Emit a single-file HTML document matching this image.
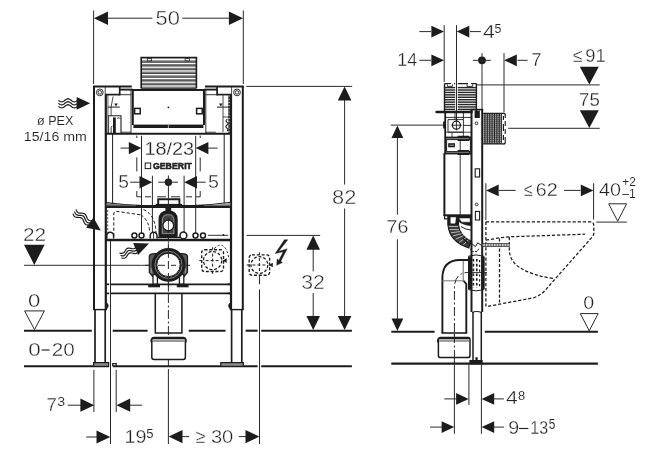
<!DOCTYPE html>
<html><head><meta charset="utf-8"><title>Installation dimensions</title>
<style>
html,body{margin:0;padding:0;background:#fff;}
body{width:652px;height:454px;overflow:hidden;}
svg{display:block;}
text{font-family:"Liberation Sans",sans-serif;}
svg{filter:grayscale(1);}
</style></head><body>
<svg width="652" height="454" viewBox="0 0 652 454">
<rect x="0" y="0" width="652" height="454" fill="#ffffff"/>
<g id="dims">
<line x1="93.6" y1="10.5" x2="93.6" y2="84" stroke="#2a2a2a" stroke-width="1"/>
<line x1="243.3" y1="10.5" x2="243.3" y2="84" stroke="#2a2a2a" stroke-width="1"/>
<polygon points="93.9,18.2 108,11.4 108,25" fill="#1c1c1c" stroke="none" stroke-width="0"/>
<polygon points="243,18.2 228.9,11.4 228.9,25" fill="#1c1c1c" stroke="none" stroke-width="0"/>
<line x1="107" y1="18.2" x2="152.4" y2="18.2" stroke="#2a2a2a" stroke-width="1"/>
<line x1="182.4" y1="18.2" x2="230" y2="18.2" stroke="#2a2a2a" stroke-width="1"/>
<text transform="translate(155.6,24.75) scale(1.1309,1)" font-size="19.36" fill="#222222" stroke="#fff" stroke-width="0.42">50</text>
<line x1="246.3" y1="86.4" x2="352.2" y2="86.4" stroke="#2a2a2a" stroke-width="1"/>
<line x1="344.6" y1="99" x2="344.6" y2="184.6" stroke="#2a2a2a" stroke-width="1"/>
<line x1="344.6" y1="208.5" x2="344.6" y2="318" stroke="#2a2a2a" stroke-width="1"/>
<polygon points="344.6,86.6 337.8,100.6 351.4,100.6" fill="#1c1c1c" stroke="none" stroke-width="0"/>
<polygon points="344.6,330 337.8,316 351.4,316" fill="#1c1c1c" stroke="none" stroke-width="0"/>
<text transform="translate(332.1,203.65) scale(1.1064,1)" font-size="19.79" fill="#222222" stroke="#fff" stroke-width="0.46">82</text>
<line x1="246.5" y1="235.4" x2="320.2" y2="235.4" stroke="#2a2a2a" stroke-width="1"/>
<line x1="313.2" y1="249" x2="313.2" y2="271.4" stroke="#2a2a2a" stroke-width="1"/>
<line x1="313.2" y1="293" x2="313.2" y2="318" stroke="#2a2a2a" stroke-width="1"/>
<polygon points="313.2,235.6 306.4,249.8 320,249.8" fill="#1c1c1c" stroke="none" stroke-width="0"/>
<polygon points="313.2,330 306.4,316 320,316" fill="#1c1c1c" stroke="none" stroke-width="0"/>
<text transform="translate(301.2,289.05) scale(1.0824,1)" font-size="19.64" fill="#222222" stroke="#fff" stroke-width="0.45">32</text>
<text transform="translate(36.95,125.05) scale(0.9408,1)" font-size="13.41" fill="#222222" stroke="#fff" stroke-width="0.1">ø PEX</text>
<text transform="translate(23.85,141.25) scale(1.0999,1)" font-size="12.9" fill="#222222" stroke="#fff" stroke-width="0.1">15/16 mm</text>
<path d="M58.5 100.3 L59.29 100.91 L60.08 101.43 L60.88 101.78 L61.67 101.9 L62.46 101.78 L63.25 101.43 L64.04 100.91 L64.83 100.3 L65.62 99.69 L66.42 99.17 L67.21 98.82 L68 98.7 L68.79 98.82 L69.58 99.17 L70.38 99.69 L71.17 100.3 L71.96 100.91 L72.75 101.43 L73.54 101.78 L74.33 101.9 L75.12 101.78 L75.92 101.43 L76.71 100.91 L77.5 100.3" stroke="#1c1c1c" stroke-width="1.2" fill="none"/>
<path d="M58.5 103.3 L59.29 103.91 L60.08 104.43 L60.88 104.78 L61.67 104.9 L62.46 104.78 L63.25 104.43 L64.04 103.91 L64.83 103.3 L65.62 102.69 L66.42 102.17 L67.21 101.82 L68 101.7 L68.79 101.82 L69.58 102.17 L70.38 102.69 L71.17 103.3 L71.96 103.91 L72.75 104.43 L73.54 104.78 L74.33 104.9 L75.12 104.78 L75.92 104.43 L76.71 103.91 L77.5 103.3" stroke="#1c1c1c" stroke-width="1.2" fill="none"/>
<path d="M58.5 106.3 L59.29 106.91 L60.08 107.43 L60.88 107.78 L61.67 107.9 L62.46 107.78 L63.25 107.43 L64.04 106.91 L64.83 106.3 L65.62 105.69 L66.42 105.17 L67.21 104.82 L68 104.7 L68.79 104.82 L69.58 105.17 L70.38 105.69 L71.17 106.3 L71.96 106.91 L72.75 107.43 L73.54 107.78 L74.33 107.9 L75.12 107.78 L75.92 107.43 L76.71 106.91 L77.5 106.3" stroke="#1c1c1c" stroke-width="1.2" fill="none"/>
<polygon points="90.2,103.3 76.7,96.9 76.7,109.7" fill="#1c1c1c" stroke="none" stroke-width="0"/>
<path d="M76.02 209.39 L76.37 210.3 L76.77 211.15 L77.26 211.88 L77.87 212.44 L78.6 212.83 L79.44 213.07 L80.37 213.18 L81.35 213.22 L82.33 213.27 L83.26 213.38 L84.11 213.61 L84.83 214 L85.44 214.57 L85.93 215.29 L86.33 216.14 L86.68 217.06 L87.04 217.97 L87.44 218.82 L87.93 219.54 L88.53 220.11 L89.26 220.5 L90.11 220.73 L91.04 220.84 L92.02 220.89" stroke="#1c1c1c" stroke-width="1.2" fill="none"/>
<path d="M74.5 211.5 L74.85 212.41 L75.26 213.26 L75.75 213.99 L76.35 214.55 L77.08 214.95 L77.92 215.18 L78.85 215.29 L79.83 215.33 L80.81 215.38 L81.74 215.49 L82.59 215.72 L83.32 216.11 L83.92 216.68 L84.41 217.4 L84.81 218.25 L85.17 219.17 L85.52 220.08 L85.92 220.93 L86.41 221.65 L87.02 222.22 L87.75 222.61 L88.59 222.85 L89.52 222.96 L90.5 223" stroke="#1c1c1c" stroke-width="1.2" fill="none"/>
<path d="M72.98 213.61 L73.34 214.53 L73.74 215.37 L74.23 216.1 L74.83 216.66 L75.56 217.06 L76.4 217.29 L77.34 217.4 L78.32 217.44 L79.3 217.49 L80.23 217.6 L81.07 217.83 L81.8 218.22 L82.4 218.79 L82.89 219.52 L83.3 220.36 L83.65 221.28 L84 222.19 L84.4 223.04 L84.89 223.77 L85.5 224.33 L86.23 224.72 L87.07 224.96 L88 225.07 L88.98 225.11" stroke="#1c1c1c" stroke-width="1.2" fill="none"/>
<polygon points="100.8,230.6 93.43,217.6 86.15,227.63" fill="#1c1c1c" stroke="none" stroke-width="0"/>
<path d="M119.51 253.1 L120.42 253.3 L121.3 253.43 L122.13 253.42 L122.88 253.22 L123.54 252.83 L124.14 252.26 L124.67 251.55 L125.18 250.76 L125.68 249.98 L126.22 249.26 L126.81 248.69 L127.48 248.3 L128.23 248.11 L129.05 248.1 L129.93 248.23 L130.84 248.43 L131.76 248.63 L132.64 248.76 L133.46 248.75 L134.21 248.56 L134.88 248.17 L135.47 247.59 L136.01 246.88 L136.51 246.1" stroke="#1c1c1c" stroke-width="1.2" fill="none"/>
<path d="M120.5 255.5 L121.41 255.7 L122.29 255.83 L123.12 255.82 L123.87 255.63 L124.53 255.24 L125.13 254.67 L125.66 253.95 L126.17 253.17 L126.67 252.38 L127.21 251.67 L127.8 251.1 L128.47 250.71 L129.22 250.51 L130.04 250.5 L130.92 250.63 L131.83 250.83 L132.75 251.04 L133.63 251.17 L134.45 251.15 L135.2 250.96 L135.87 250.57 L136.46 250 L137 249.29 L137.5 248.5" stroke="#1c1c1c" stroke-width="1.2" fill="none"/>
<path d="M121.49 257.9 L122.4 258.11 L123.28 258.24 L124.11 258.23 L124.86 258.03 L125.52 257.64 L126.12 257.07 L126.65 256.36 L127.16 255.57 L127.66 254.78 L128.2 254.07 L128.79 253.5 L129.46 253.11 L130.21 252.92 L131.03 252.91 L131.91 253.03 L132.82 253.24 L133.74 253.44 L134.62 253.57 L135.44 253.56 L136.19 253.37 L136.86 252.98 L137.45 252.4 L137.99 251.69 L138.49 250.9" stroke="#1c1c1c" stroke-width="1.2" fill="none"/>
<polygon points="149,243.4 133.15,243.09 138.09,254.9" fill="#1c1c1c" stroke="none" stroke-width="0"/>
<text transform="translate(22.9,241.45) scale(1.0831,1)" font-size="19.21" fill="#222222" stroke="#fff" stroke-width="0.41">22</text>
<polygon points="24,244.7 44.6,244.7 34.3,264.9" fill="#1c1c1c" stroke="none" stroke-width="0"/>
<line x1="24" y1="265.3" x2="141.4" y2="265.3" stroke="#2a2a2a" stroke-width="1"/>
<text transform="translate(28.1,307.05) scale(1.2461,1)" font-size="17.79" fill="#222222" stroke="#fff" stroke-width="0.28">0</text>
<polygon points="24.6,310.9 44.4,310.9 34.5,329.6" fill="#fff" stroke="#2a2a2a" stroke-width="1"/>
<text transform="translate(28.2,356.45) scale(1.2174,1)" font-size="18.5" fill="#222222" stroke="#fff" stroke-width="0.34">0</text>
<line x1="41.6" y1="350" x2="49.6" y2="350" stroke="#222222" stroke-width="1.15"/>
<text transform="translate(51.8,356.45) scale(1.1200,1)" font-size="18.5" fill="#222222" stroke="#fff" stroke-width="0.34">20</text>
<line x1="24" y1="330.7" x2="91.8" y2="330.7" stroke="#1c1c1c" stroke-width="2.1"/>
<line x1="112.7" y1="330.7" x2="147.6" y2="330.7" stroke="#1c1c1c" stroke-width="2.1"/>
<line x1="188.7" y1="330.7" x2="225.5" y2="330.7" stroke="#1c1c1c" stroke-width="2.1"/>
<line x1="245.6" y1="330.7" x2="257.6" y2="330.7" stroke="#1c1c1c" stroke-width="2.1"/>
<line x1="261.2" y1="330.7" x2="351.9" y2="330.7" stroke="#1c1c1c" stroke-width="2.1"/>
<line x1="24" y1="366.3" x2="108.8" y2="366.3" stroke="#1c1c1c" stroke-width="2.1"/>
<line x1="112.7" y1="366.3" x2="257.6" y2="366.3" stroke="#1c1c1c" stroke-width="2.1"/>
<line x1="261.2" y1="366.3" x2="351.9" y2="366.3" stroke="#1c1c1c" stroke-width="2.1"/>
<line x1="391.3" y1="331.7" x2="434.6" y2="331.7" stroke="#1c1c1c" stroke-width="2.1"/>
<line x1="484.8" y1="331.7" x2="597.9" y2="331.7" stroke="#1c1c1c" stroke-width="2.1"/>
<line x1="391.3" y1="363.6" x2="597.9" y2="363.6" stroke="#1c1c1c" stroke-width="2.1"/>
<line x1="93.9" y1="369.8" x2="93.9" y2="412" stroke="#2a2a2a" stroke-width="1"/>
<line x1="116.2" y1="369.8" x2="116.2" y2="412" stroke="#2a2a2a" stroke-width="1"/>
<line x1="110.5" y1="240" x2="110.5" y2="444" stroke="#2a2a2a" stroke-width="1"/>
<line x1="168.4" y1="369" x2="168.4" y2="444" stroke="#2a2a2a" stroke-width="1"/>
<line x1="259.5" y1="300" x2="259.5" y2="444" stroke="#2a2a2a" stroke-width="1"/>
<text transform="translate(46.4,411.35) scale(1.0303,1)" font-size="18.19" fill="#222222" stroke="#fff" stroke-width="0.32">7</text>
<text transform="translate(57.15,406.05) scale(1.0940,1)" font-size="12.93" fill="#222222" stroke="#fff" stroke-width="0.1">3</text>
<line x1="67.8" y1="405.2" x2="81" y2="405.2" stroke="#2a2a2a" stroke-width="1"/>
<polygon points="94.2,405.2 80.4,398.6 80.4,411.8" fill="#1c1c1c" stroke="none" stroke-width="0"/>
<polygon points="116.4,405.2 130.2,398.6 130.2,411.8" fill="#1c1c1c" stroke="none" stroke-width="0"/>
<line x1="129.5" y1="405.2" x2="142.2" y2="405.2" stroke="#2a2a2a" stroke-width="1"/>
<line x1="86.2" y1="437" x2="97" y2="437" stroke="#2a2a2a" stroke-width="1"/>
<polygon points="110.3,437 96.5,430.4 96.5,443.6" fill="#1c1c1c" stroke="none" stroke-width="0"/>
<text transform="translate(124.5,443.05) scale(1.0748,1)" font-size="18.36" fill="#222222" stroke="#fff" stroke-width="0.33">19</text>
<text transform="translate(146.15,438.05) scale(0.9538,1)" font-size="13.7" fill="#222222" stroke="#fff" stroke-width="0.1">5</text>
<polygon points="168.7,436.6 182.5,430 182.5,443.2" fill="#1c1c1c" stroke="none" stroke-width="0"/>
<line x1="182" y1="436.6" x2="189.2" y2="436.6" stroke="#2a2a2a" stroke-width="1"/>
<text transform="translate(195.5,442.65) scale(0.9432,1)" font-size="19.08" fill="#222222" stroke="#fff" stroke-width="0.4">≥</text>
<text transform="translate(210.9,443.05) scale(1.0661,1)" font-size="18.93" fill="#222222" stroke="#fff" stroke-width="0.38">30</text>
<line x1="238.7" y1="436.6" x2="246" y2="436.6" stroke="#2a2a2a" stroke-width="1"/>
<polygon points="259.3,436.6 245.5,430 245.5,443.2" fill="#1c1c1c" stroke="none" stroke-width="0"/>
<text transform="translate(144.5,154.65) scale(1.1282,1)" font-size="17.59" fill="#222222" stroke="#fff" stroke-width="0.26">18/23</text>
<line x1="120.5" y1="148.1" x2="129" y2="148.1" stroke="#2a2a2a" stroke-width="1"/>
<polygon points="141.4,148.1 128.8,141.9 128.8,154.3" fill="#1c1c1c" stroke="none" stroke-width="0"/>
<polygon points="195.8,148.1 208.4,141.9 208.4,154.3" fill="#1c1c1c" stroke="none" stroke-width="0"/>
<line x1="208" y1="148.1" x2="217.6" y2="148.1" stroke="#2a2a2a" stroke-width="1"/>
<line x1="141.5" y1="135.8" x2="141.5" y2="235" stroke="#2a2a2a" stroke-width="1"/>
<line x1="195.7" y1="135.8" x2="195.7" y2="235" stroke="#2a2a2a" stroke-width="1"/>
<path d="M136.8 135.6 V138 M136.8 157.4 V171.4 M136.8 191 V196.8 H141 M145 196.8 H151 M200.2 135.6 V138 M200.2 157.4 V171.4 M200.2 191 V196.8 H196 M192 196.8 H186 M157 196.8 H166 M171 196.8 H180" stroke="#2a2a2a" stroke-width="1" fill="none"/>
<rect x="145.2" y="163" width="5.5" height="5.6" stroke="#1c1c1c" stroke-width="1" fill="none"/>
<text transform="translate(152.95,168.95) scale(0.9389,1)" font-size="9.36" fill="#222" stroke="#222" stroke-width="0.55" font-weight="bold">GEBERIT</text>
<text transform="translate(118.3,188.05) scale(1.0433,1)" font-size="18.48" fill="#222222" stroke="#fff" stroke-width="0.34">5</text>
<text transform="translate(208.1,188.05) scale(1.0629,1)" font-size="18.48" fill="#222222" stroke="#fff" stroke-width="0.34">5</text>
<line x1="130.2" y1="182.2" x2="140" y2="182.2" stroke="#2a2a2a" stroke-width="1"/>
<polygon points="152.3,182.2 139.5,176 139.5,188.4" fill="#1c1c1c" stroke="none" stroke-width="0"/>
<polygon points="184.2,182.2 197,176 197,188.4" fill="#1c1c1c" stroke="none" stroke-width="0"/>
<line x1="196.5" y1="182.2" x2="205.7" y2="182.2" stroke="#2a2a2a" stroke-width="1"/>
<line x1="152.4" y1="175.7" x2="152.4" y2="232" stroke="#2a2a2a" stroke-width="1"/>
<line x1="184.1" y1="175.7" x2="184.1" y2="232" stroke="#2a2a2a" stroke-width="1"/>
<circle cx="168.4" cy="182.2" r="3.7" stroke="#1c1c1c" stroke-width="0" fill="#1c1c1c"/>
<line x1="158.2" y1="182.2" x2="178" y2="182.2" stroke="#2a2a2a" stroke-width="1"/>
<line x1="168.4" y1="175.5" x2="168.4" y2="198" stroke="#2a2a2a" stroke-width="1"/>
<line x1="444.2" y1="25.1" x2="444.2" y2="82" stroke="#2a2a2a" stroke-width="1"/>
<line x1="456.5" y1="25.1" x2="456.5" y2="121" stroke="#2a2a2a" stroke-width="1"/>
<line x1="419.4" y1="31.6" x2="431" y2="31.6" stroke="#2a2a2a" stroke-width="1"/>
<polygon points="444,31.6 431.4,25.7 431.4,37.5" fill="#1c1c1c" stroke="none" stroke-width="0"/>
<polygon points="456.7,31.6 469.3,25.7 469.3,37.5" fill="#1c1c1c" stroke="none" stroke-width="0"/>
<line x1="470" y1="31.6" x2="480.9" y2="31.6" stroke="#2a2a2a" stroke-width="1"/>
<text transform="translate(483,38.05) scale(1.1783,1)" font-size="18.04" fill="#222222" stroke="#fff" stroke-width="0.3">4</text>
<text transform="translate(494.55,33.35) scale(0.9307,1)" font-size="13.26" fill="#222222" stroke="#fff" stroke-width="0.1">5</text>
<text transform="translate(397.3,66.15) scale(0.9702,1)" font-size="18.48" fill="#222222" stroke="#fff" stroke-width="0.34">14</text>
<line x1="419.4" y1="60.3" x2="431" y2="60.3" stroke="#2a2a2a" stroke-width="1"/>
<polygon points="444,60.3 431.4,54.4 431.4,66.2" fill="#1c1c1c" stroke="none" stroke-width="0"/>
<circle cx="482" cy="60.3" r="3.9" stroke="#1c1c1c" stroke-width="0" fill="#1c1c1c"/>
<line x1="472.9" y1="60.3" x2="490.8" y2="60.3" stroke="#2a2a2a" stroke-width="1"/>
<line x1="482" y1="53.1" x2="482" y2="110" stroke="#2a2a2a" stroke-width="1"/>
<line x1="504" y1="53.1" x2="504" y2="112" stroke="#2a2a2a" stroke-width="1"/>
<polygon points="504.2,60.3 516.8,54.4 516.8,66.2" fill="#1c1c1c" stroke="none" stroke-width="0"/>
<line x1="517.5" y1="60.3" x2="527.5" y2="60.3" stroke="#2a2a2a" stroke-width="1"/>
<text transform="translate(531.3,65.65) scale(1.0369,1)" font-size="17.9" fill="#222222" stroke="#fff" stroke-width="0.29">7</text>
<line x1="477" y1="84.9" x2="599.7" y2="84.9" stroke="#2a2a2a" stroke-width="1"/>
<text transform="translate(572.7,62.45) scale(0.9323,1)" font-size="18.92" fill="#222222" stroke="#fff" stroke-width="0.38">≤</text>
<text transform="translate(585.2,62.45) scale(1.0090,1)" font-size="18.21" fill="#222222" stroke="#fff" stroke-width="0.32">91</text>
<polygon points="579.8,66.7 598.8,66.7 589.3,84.6" fill="#1c1c1c" stroke="none" stroke-width="0"/>
<text transform="translate(579.1,105.95) scale(1.0504,1)" font-size="17.75" fill="#222222" stroke="#fff" stroke-width="0.28">75</text>
<polygon points="579.8,110.2 598.8,110.2 589.3,128" fill="#1c1c1c" stroke="none" stroke-width="0"/>
<line x1="508.2" y1="128.3" x2="599.7" y2="128.3" stroke="#2a2a2a" stroke-width="1"/>
<line x1="390.8" y1="125.1" x2="444.5" y2="125.1" stroke="#2a2a2a" stroke-width="1"/>
<line x1="397.4" y1="137" x2="397.4" y2="214.7" stroke="#2a2a2a" stroke-width="1"/>
<line x1="397.4" y1="239.3" x2="397.4" y2="319" stroke="#2a2a2a" stroke-width="1"/>
<polygon points="397.4,125.4 391.5,138 403.3,138" fill="#1c1c1c" stroke="none" stroke-width="0"/>
<polygon points="397.4,331 391.5,318.4 403.3,318.4" fill="#1c1c1c" stroke="none" stroke-width="0"/>
<text transform="translate(386.6,233.15) scale(1.0783,1)" font-size="18.21" fill="#222222" stroke="#fff" stroke-width="0.32">76</text>
<line x1="485.9" y1="183.2" x2="485.9" y2="220" stroke="#2a2a2a" stroke-width="1"/>
<line x1="593.6" y1="183.2" x2="593.6" y2="219.6" stroke="#2a2a2a" stroke-width="1"/>
<polygon points="486.1,190.4 498.7,184.5 498.7,196.3" fill="#1c1c1c" stroke="none" stroke-width="0"/>
<line x1="499" y1="190.4" x2="515.7" y2="190.4" stroke="#2a2a2a" stroke-width="1"/>
<text transform="translate(523.4,196.25) scale(0.8885,1)" font-size="18.42" fill="#222222" stroke="#fff" stroke-width="0.34">≤</text>
<text transform="translate(535.7,196.25) scale(1.0748,1)" font-size="18.36" fill="#222222" stroke="#fff" stroke-width="0.33">62</text>
<line x1="564" y1="190.4" x2="580.6" y2="190.4" stroke="#2a2a2a" stroke-width="1"/>
<polygon points="593.4,190.4 580.8,184.5 580.8,196.3" fill="#1c1c1c" stroke="none" stroke-width="0"/>
<text transform="translate(599.1,196.25) scale(1.0748,1)" font-size="18.36" fill="#222222" stroke="#fff" stroke-width="0.33">40</text>
<text transform="translate(622.25,186.45) scale(0.9332,1)" font-size="12.64" fill="#222222" stroke="#fff" stroke-width="0.1">+2</text>
<text transform="translate(622.25,198.45) scale(0.9666,1)" font-size="12.54" fill="#222222" stroke="#fff" stroke-width="0.1">–1</text>
<polygon points="608.7,203.8 626.6,203.8 617.7,221.2" fill="#fff" stroke="#2a2a2a" stroke-width="1"/>
<line x1="596.2" y1="222.1" x2="626.8" y2="222.1" stroke="#2a2a2a" stroke-width="1"/>
<text transform="translate(583.3,309.45) scale(1.1042,1)" font-size="17.79" fill="#222222" stroke="#fff" stroke-width="0.28">0</text>
<polygon points="580.3,313.6 598.2,313.6 589.2,330.8" fill="#fff" stroke="#2a2a2a" stroke-width="1"/>
<line x1="454.4" y1="364.6" x2="454.4" y2="433.8" stroke="#2a2a2a" stroke-width="1"/>
<line x1="468.9" y1="364.6" x2="468.9" y2="405" stroke="#2a2a2a" stroke-width="1"/>
<line x1="481.4" y1="364.6" x2="481.4" y2="433.8" stroke="#2a2a2a" stroke-width="1"/>
<line x1="444.3" y1="398.9" x2="456.6" y2="398.9" stroke="#2a2a2a" stroke-width="1"/>
<polygon points="468.7,398.9 456.1,393 456.1,404.8" fill="#1c1c1c" stroke="none" stroke-width="0"/>
<polygon points="481.6,398.9 494.2,393 494.2,404.8" fill="#1c1c1c" stroke="none" stroke-width="0"/>
<line x1="493.5" y1="398.9" x2="503.9" y2="398.9" stroke="#2a2a2a" stroke-width="1"/>
<text transform="translate(506.1,404.35) scale(1.1683,1)" font-size="18.04" fill="#222222" stroke="#fff" stroke-width="0.3">4</text>
<text transform="translate(518.05,399.65) scale(0.9543,1)" font-size="13.5" fill="#222222" stroke="#fff" stroke-width="0.1">8</text>
<line x1="430" y1="427.1" x2="442.6" y2="427.1" stroke="#2a2a2a" stroke-width="1"/>
<polygon points="454.2,427.1 441.6,421.2 441.6,433" fill="#1c1c1c" stroke="none" stroke-width="0"/>
<polygon points="481.6,427.1 494.2,421.2 494.2,433" fill="#1c1c1c" stroke="none" stroke-width="0"/>
<line x1="493.5" y1="427.1" x2="503.9" y2="427.1" stroke="#2a2a2a" stroke-width="1"/>
<text transform="translate(508.2,433.55) scale(1.0783,1)" font-size="18.21" fill="#222222" stroke="#fff" stroke-width="0.32">9</text>
<line x1="519" y1="428.5" x2="528.4" y2="428.5" stroke="#222222" stroke-width="1.15"/>
<text transform="translate(530.3,433.55) scale(0.8804,1)" font-size="18.21" fill="#222222" stroke="#fff" stroke-width="0.32">13</text>
<text transform="translate(548.65,429.45) scale(0.8439,1)" font-size="13.99" fill="#222222" stroke="#fff" stroke-width="0.1">5</text>
</g>
<g id="left">
<rect x="141" y="57.4" width="55.6" height="31" stroke="none" stroke-width="0" fill="#fff"/>
<line x1="141.6" y1="61.2" x2="196" y2="61.2" stroke="#7c7c7c" stroke-width="1.9"/>
<line x1="141.6" y1="62.3" x2="196" y2="62.3" stroke="#222" stroke-width="0.8"/>
<line x1="141.6" y1="64.95" x2="196" y2="64.95" stroke="#7c7c7c" stroke-width="1.9"/>
<line x1="141.6" y1="66.05" x2="196" y2="66.05" stroke="#222" stroke-width="0.8"/>
<line x1="141.6" y1="68.7" x2="196" y2="68.7" stroke="#7c7c7c" stroke-width="1.9"/>
<line x1="141.6" y1="69.8" x2="196" y2="69.8" stroke="#222" stroke-width="0.8"/>
<line x1="141.6" y1="72.45" x2="196" y2="72.45" stroke="#7c7c7c" stroke-width="1.9"/>
<line x1="141.6" y1="73.55" x2="196" y2="73.55" stroke="#222" stroke-width="0.8"/>
<line x1="141.6" y1="76.2" x2="196" y2="76.2" stroke="#7c7c7c" stroke-width="1.9"/>
<line x1="141.6" y1="77.3" x2="196" y2="77.3" stroke="#222" stroke-width="0.8"/>
<line x1="141.6" y1="79.95" x2="196" y2="79.95" stroke="#7c7c7c" stroke-width="1.9"/>
<line x1="141.6" y1="81.05" x2="196" y2="81.05" stroke="#222" stroke-width="0.8"/>
<line x1="141.6" y1="83.7" x2="196" y2="83.7" stroke="#7c7c7c" stroke-width="1.9"/>
<line x1="141.6" y1="84.8" x2="196" y2="84.8" stroke="#222" stroke-width="0.8"/>
<line x1="141.6" y1="87.45" x2="196" y2="87.45" stroke="#7c7c7c" stroke-width="1.9"/>
<line x1="141.6" y1="88.55" x2="196" y2="88.55" stroke="#222" stroke-width="0.8"/>
<path d="M141.2 88.6 V57.6 H196.4 V88.6" stroke="#1c1c1c" stroke-width="1.6" fill="none"/>
<rect x="147.3" y="58.6" width="4.3" height="2.2" stroke="#1c1c1c" stroke-width="0.8" fill="#fff"/>
<rect x="185.2" y="58.6" width="4.3" height="2.2" stroke="#1c1c1c" stroke-width="0.8" fill="#fff"/>
<line x1="94" y1="86" x2="94" y2="309.7" stroke="#1c1c1c" stroke-width="2"/>
<line x1="105.8" y1="94.5" x2="105.8" y2="309.7" stroke="#1c1c1c" stroke-width="2.2"/>
<line x1="107.9" y1="95" x2="107.9" y2="133" stroke="#1c1c1c" stroke-width="0.7"/>
<line x1="93.2" y1="309.6" x2="107" y2="309.6" stroke="#1c1c1c" stroke-width="1.4"/>
<path d="M106.4 302.6 Q110 305.8 106.4 309.2" stroke="#1c1c1c" stroke-width="0.8" fill="#1c1c1c"/>
<line x1="95" y1="310" x2="95" y2="362.5" stroke="#1c1c1c" stroke-width="1.7"/>
<line x1="105.2" y1="310" x2="105.2" y2="362.5" stroke="#1c1c1c" stroke-width="1.7"/>
<line x1="93" y1="86.5" x2="131.8" y2="86.5" stroke="#1c1c1c" stroke-width="2"/>
<circle cx="99.8" cy="92.4" r="3.4" stroke="#1c1c1c" stroke-width="0.9" fill="#fff"/>
<circle cx="99.8" cy="92.4" r="1.8" stroke="#1c1c1c" stroke-width="0.9" fill="#fff"/>
<line x1="105.2" y1="87" x2="105.2" y2="94.5" stroke="#1c1c1c" stroke-width="0.8"/>
<line x1="105" y1="94.6" x2="119.7" y2="94.6" stroke="#1c1c1c" stroke-width="1.7"/>
<line x1="119.7" y1="87" x2="119.7" y2="95.4" stroke="#1c1c1c" stroke-width="1.7"/>
<line x1="119" y1="89.6" x2="132.6" y2="89.6" stroke="#1c1c1c" stroke-width="1.9"/>
<line x1="119.7" y1="94.7" x2="131.4" y2="94.7" stroke="#1c1c1c" stroke-width="0.9"/>
<line x1="131" y1="89.6" x2="131" y2="133" stroke="#1c1c1c" stroke-width="0.9"/>
<line x1="107.8" y1="107.1" x2="119.8" y2="107.1" stroke="#1c1c1c" stroke-width="1"/>
<polygon points="114.2,103.5 117.8,103.5 116,106.6" fill="#1c1c1c" stroke="none" stroke-width="0"/>
<line x1="112.6" y1="134" x2="112.6" y2="203.5" stroke="#1c1c1c" stroke-width="1"/>
<line x1="121" y1="132.2" x2="131" y2="132.2" stroke="#1c1c1c" stroke-width="0.8"/>
<line x1="242.8" y1="86" x2="242.8" y2="309.7" stroke="#1c1c1c" stroke-width="2"/>
<line x1="231" y1="94.5" x2="231" y2="309.7" stroke="#1c1c1c" stroke-width="2.2"/>
<line x1="228.9" y1="95" x2="228.9" y2="133" stroke="#1c1c1c" stroke-width="0.7"/>
<line x1="243.6" y1="309.6" x2="229.8" y2="309.6" stroke="#1c1c1c" stroke-width="1.4"/>
<path d="M230.4 302.6 Q226.8 305.8 230.4 309.2" stroke="#1c1c1c" stroke-width="0.8" fill="#1c1c1c"/>
<line x1="241.8" y1="310" x2="241.8" y2="362.5" stroke="#1c1c1c" stroke-width="1.7"/>
<line x1="231.6" y1="310" x2="231.6" y2="362.5" stroke="#1c1c1c" stroke-width="1.7"/>
<line x1="243.8" y1="86.5" x2="205" y2="86.5" stroke="#1c1c1c" stroke-width="2"/>
<circle cx="237" cy="92.4" r="3.4" stroke="#1c1c1c" stroke-width="0.9" fill="#fff"/>
<circle cx="237" cy="92.4" r="1.8" stroke="#1c1c1c" stroke-width="0.9" fill="#fff"/>
<line x1="231.6" y1="87" x2="231.6" y2="94.5" stroke="#1c1c1c" stroke-width="0.8"/>
<line x1="231.8" y1="94.6" x2="217.1" y2="94.6" stroke="#1c1c1c" stroke-width="1.7"/>
<line x1="217.1" y1="87" x2="217.1" y2="95.4" stroke="#1c1c1c" stroke-width="1.7"/>
<line x1="217.8" y1="89.6" x2="204.2" y2="89.6" stroke="#1c1c1c" stroke-width="1.9"/>
<line x1="217.1" y1="94.7" x2="205.4" y2="94.7" stroke="#1c1c1c" stroke-width="0.9"/>
<line x1="205.8" y1="89.6" x2="205.8" y2="133" stroke="#1c1c1c" stroke-width="0.9"/>
<line x1="229" y1="107.1" x2="217" y2="107.1" stroke="#1c1c1c" stroke-width="1"/>
<polygon points="222.6,103.5 219,103.5 220.8,106.6" fill="#1c1c1c" stroke="none" stroke-width="0"/>
<line x1="224.2" y1="134" x2="224.2" y2="203.5" stroke="#1c1c1c" stroke-width="1"/>
<line x1="215.8" y1="132.2" x2="205.8" y2="132.2" stroke="#1c1c1c" stroke-width="0.8"/>
<rect x="93.6" y="362.6" width="15" height="3.8" stroke="#1c1c1c" stroke-width="1.2" fill="#8a8a8a"/>
<rect x="220.8" y="362.6" width="22.5" height="3.8" stroke="#1c1c1c" stroke-width="1.2" fill="#8a8a8a"/>
<path d="M112.7 366 V363.6 H116.2 V366" stroke="#1c1c1c" stroke-width="1.2" fill="none"/>
<path d="M107.8 115.7 H121.0 V133" stroke="#1c1c1c" stroke-width="1.1" fill="none"/>
<line x1="114.4" y1="117.4" x2="114.4" y2="133" stroke="#1c1c1c" stroke-width="2.8"/>
<line x1="108.6" y1="116" x2="108.6" y2="133" stroke="#1c1c1c" stroke-width="0.8"/>
<path d="M113.1 96.5 L111.1 107.1 V115.5" stroke="#1c1c1c" stroke-width="0.8" fill="none"/>
<path d="M111.1 133 V127.6 Q111.1 126.2 112.4 126.2" stroke="#1c1c1c" stroke-width="0.9" fill="none"/>
<path d="M117 118.4 Q119.5 116.6 120.4 119" stroke="#1c1c1c" stroke-width="0.8" fill="none"/>
<line x1="223" y1="95.2" x2="223" y2="132.2" stroke="#1c1c1c" stroke-width="0.8"/>
<line x1="229.3" y1="96.5" x2="229.3" y2="132.8" stroke="#333" stroke-width="1.7" stroke-dasharray="2.4 0.8"/>
<line x1="223" y1="117" x2="229" y2="117" stroke="#1c1c1c" stroke-width="0.8"/>
<path d="M227.4 119.2 Q224.8 120.6 227 122.4 Q229 123.6 227 125 Q224.8 126.6 227 128.2 Q228.8 129.4 227.2 131" stroke="#1c1c1c" stroke-width="1.1" fill="none"/>
<path d="M132.8 125 V90.0 H204.0 V125" stroke="#1c1c1c" stroke-width="2" fill="none" stroke-linejoin="miter"/>
<line x1="132.8" y1="90" x2="204" y2="90" stroke="#1c1c1c" stroke-width="2.2"/>
<rect x="133.4" y="124.6" width="70" height="3.4" stroke="#1c1c1c" stroke-width="0" fill="#1c1c1c"/>
<line x1="168.4" y1="125" x2="168.4" y2="128" stroke="#fff" stroke-width="0.6"/>
<rect x="134.6" y="108.4" width="5.6" height="5.4" stroke="#1c1c1c" stroke-width="1.5" fill="#fff"/>
<rect x="196.6" y="108.4" width="5.6" height="5.4" stroke="#1c1c1c" stroke-width="1.5" fill="#fff"/>
<circle cx="168.4" cy="107.3" r="0.9" stroke="#1c1c1c" stroke-width="0" fill="#1c1c1c"/>
<line x1="105" y1="133.8" x2="232" y2="133.8" stroke="#1c1c1c" stroke-width="2"/>
<line x1="105.8" y1="206.5" x2="231.2" y2="206.5" stroke="#1c1c1c" stroke-width="2.8"/>
<path d="M106 202.6 Q124 205.0 143 205.6 M231 202.3 Q213 204.8 194 205.6" stroke="#1c1c1c" stroke-width="1.1" fill="none"/>
<path d="M106.8 203.4 Q120 205.0 136 205.6 H106.8 Z" stroke="#888" stroke-width="0.4" fill="#777"/>
<path d="M230.2 203.2 Q218 204.8 204 205.6 H230.2 Z" stroke="#888" stroke-width="0.4" fill="#999"/>
<line x1="107.7" y1="210" x2="107.7" y2="236" stroke="#1c1c1c" stroke-width="0.8" stroke-dasharray="2 1.6"/>
<path d="M158.2 204.6 V199.2 H179.4 V204.6" stroke="#1c1c1c" stroke-width="1.9" fill="none"/>
<line x1="155.6" y1="204.8" x2="182" y2="204.8" stroke="#1c1c1c" stroke-width="1.8"/>
<line x1="168.4" y1="198" x2="168.4" y2="369" stroke="#2a2a2a" stroke-width="1" stroke-dasharray="9 2.5 2 2.5"/>
<path d="M113.8 236 V214 Q113.8 211.2 117 211.4 L140.5 214.8" stroke="#1c1c1c" stroke-width="1" fill="none" stroke-dasharray="3.2 2"/>
<path d="M143.5 209.5 Q155.5 215 156 233" stroke="#1c1c1c" stroke-width="1" fill="none" stroke-dasharray="3.2 2"/>
<path d="M140.7 214.8 Q149.2 220 149.8 233" stroke="#1c1c1c" stroke-width="1" fill="none" stroke-dasharray="3.2 2"/>
<path d="M160.0 235.4 V219.6 Q160.0 212.0 168.2 212.0 Q176.2 212.0 176.2 219.6 V235.4 Z" stroke="#1c1c1c" stroke-width="3" fill="#444" stroke-linejoin="round"/>
<path d="M162.4 233.6 V220.4 Q162.4 214.8 168.2 214.8 Q173.8 214.8 173.8 220.4 V233.6 Z" stroke="#b5b5b5" stroke-width="0.6" fill="none"/>
<rect x="165.4" y="207.6" width="5.8" height="3.4" stroke="#1c1c1c" stroke-width="0" fill="#1c1c1c"/>
<circle cx="168.3" cy="225.5" r="5.4" stroke="#1c1c1c" stroke-width="1.3" fill="#fff"/>
<line x1="168.4" y1="218" x2="168.4" y2="233" stroke="#1c1c1c" stroke-width="0.8"/>
<line x1="157.6" y1="237.4" x2="180.2" y2="237.4" stroke="#1c1c1c" stroke-width="1.6"/>
<path d="M106.8 238.6 V235.6 A3.4 3.4 0 0 1 113.6 235.6 V238.6" stroke="#1c1c1c" stroke-width="1.5" fill="#fff"/>
<path d="M150.2 238.6 V235.6 A3.4 3.4 0 0 1 157 235.6 V238.6" stroke="#1c1c1c" stroke-width="1.5" fill="#fff"/>
<line x1="153.6" y1="233" x2="153.6" y2="238.6" stroke="#1c1c1c" stroke-width="0.9"/>
<circle cx="134.4" cy="235.5" r="2.5" stroke="#1c1c1c" stroke-width="1.5" fill="#fff"/>
<circle cx="141.5" cy="235.5" r="2.5" stroke="#1c1c1c" stroke-width="1.5" fill="#fff"/>
<circle cx="195.5" cy="235.5" r="2.5" stroke="#1c1c1c" stroke-width="1.5" fill="#fff"/>
<circle cx="203" cy="235.5" r="2.5" stroke="#1c1c1c" stroke-width="1.5" fill="#fff"/>
<circle cx="183.4" cy="235.4" r="3.4" stroke="#1c1c1c" stroke-width="1.6" fill="#fff"/>
<line x1="207.9" y1="235.3" x2="228.3" y2="235.3" stroke="#1c1c1c" stroke-width="0.9"/>
<circle cx="223.4" cy="235" r="0.9" stroke="#1c1c1c" stroke-width="0" fill="#1c1c1c"/>
<line x1="105" y1="239.9" x2="232" y2="239.9" stroke="#1c1c1c" stroke-width="2.5"/>
<line x1="145.5" y1="265.3" x2="152" y2="265.3" stroke="#2a2a2a" stroke-width="1"/>
<path d="M157 253.6 Q149.4 253.2 149.3 256.4 V272.4 L152.6 276.4 H158.5 V260 Z" stroke="#1c1c1c" stroke-width="1.2" fill="#5a5a5a" stroke-linejoin="round"/>
<rect x="153" y="274.5" width="4.4" height="9.9" stroke="#1c1c1c" stroke-width="1.3" fill="#fff"/>
<line x1="151.2" y1="268.5" x2="151.2" y2="273.2" stroke="#bbb" stroke-width="0.7"/>
<rect x="148.2" y="284.4" width="11.8" height="2.9" stroke="#1c1c1c" stroke-width="0" fill="#1c1c1c"/>
<path d="M179.8 253.6 Q187.4 253.2 187.5 256.4 V272.4 L184.2 276.4 H178.3 V260 Z" stroke="#1c1c1c" stroke-width="1.2" fill="#5a5a5a" stroke-linejoin="round"/>
<rect x="179.4" y="274.5" width="4.4" height="9.9" stroke="#1c1c1c" stroke-width="1.3" fill="#fff"/>
<line x1="185.6" y1="268.5" x2="185.6" y2="273.2" stroke="#bbb" stroke-width="0.7"/>
<rect x="176.8" y="284.4" width="11.8" height="2.9" stroke="#1c1c1c" stroke-width="0" fill="#1c1c1c"/>
<circle cx="168.5" cy="264.9" r="14.3" stroke="#1c1c1c" stroke-width="5.2" fill="#fff"/>
<circle cx="168.5" cy="264.9" r="13.6" stroke="#c8c8c8" stroke-width="0.6" fill="none"/>
<circle cx="168.5" cy="264.9" r="11.7" stroke="#1c1c1c" stroke-width="1" fill="#fff"/>
<path d="M168.4 244 V258 M168.4 261 V269 M168.4 273 V290" stroke="#2a2a2a" stroke-width="1" fill="none"/>
<path d="M141.5 265.3 H149 M158 265.3 H165 M171 265.3 H176 M180 265.3 H190" stroke="#2a2a2a" stroke-width="1" fill="none"/>
<line x1="111" y1="284.3" x2="231" y2="284.3" stroke="#1c1c1c" stroke-width="1.7"/>
<line x1="111" y1="293.4" x2="231" y2="293.4" stroke="#1c1c1c" stroke-width="1.7"/>
<line x1="106.6" y1="284.3" x2="109.2" y2="284.3" stroke="#1c1c1c" stroke-width="1.7"/>
<line x1="227.6" y1="284.3" x2="230.2" y2="284.3" stroke="#1c1c1c" stroke-width="1.7"/>
<line x1="106.6" y1="293.4" x2="109.2" y2="293.4" stroke="#1c1c1c" stroke-width="1.7"/>
<line x1="227.6" y1="293.4" x2="230.2" y2="293.4" stroke="#1c1c1c" stroke-width="1.7"/>
<path d="M155.3 293.4 V333 H181.9 V293.4" stroke="#1c1c1c" stroke-width="1.5" fill="none"/>
<rect x="151.8" y="337.6" width="33.6" height="21.8" stroke="#1c1c1c" stroke-width="1.5" fill="#fff" rx="2.2"/>
<line x1="152.6" y1="340.6" x2="184.6" y2="340.6" stroke="#9a9a9a" stroke-width="2.6"/>
<line x1="152" y1="338.2" x2="185.2" y2="338.2" stroke="#1c1c1c" stroke-width="1.6"/>
<path d="M151.8 342.5 Q150.4 340 152.2 338.5" stroke="#1c1c1c" stroke-width="1.6" fill="none"/>
<path d="M185.4 342.5 Q186.8 340 185.0 338.5" stroke="#1c1c1c" stroke-width="1.6" fill="none"/>
<rect x="201.7" y="249.7" width="21.8" height="21.8" stroke="#1c1c1c" stroke-width="1.35" fill="none" rx="2.8" stroke-dasharray="3 1.8"/>
<circle cx="212.6" cy="260.6" r="9.1" stroke="#1c1c1c" stroke-width="1.25" fill="none" stroke-dasharray="3 1.8"/>
<path d="M205.6 260.6 H219.6 M212.6 253.6 V267.6" stroke="#1c1c1c" stroke-width="1" fill="none" stroke-dasharray="3 2"/>
<path d="M212.6 247.3 V249.7 M212.6 271.5 V273.9 M199.3 260.6 H201.7" stroke="#1c1c1c" stroke-width="1" fill="none"/>
<polygon points="222.7,260.6 226.7,258.3 226.7,262.9" fill="#1c1c1c" stroke="none" stroke-width="0"/>
<path d="M214 248.8 Q224.5 238.5 228.6 257" stroke="#1c1c1c" stroke-width="0.9" fill="none" stroke-dasharray="2.4 1.8"/>
<rect x="249.2" y="254.8" width="20.4" height="20.4" stroke="#1c1c1c" stroke-width="1.35" fill="none" rx="2.8" stroke-dasharray="3 1.8"/>
<circle cx="259.4" cy="265" r="8.4" stroke="#1c1c1c" stroke-width="1.25" fill="none" stroke-dasharray="3 1.8"/>
<path d="M252.4 265 H266.4 M259.4 258 V272" stroke="#1c1c1c" stroke-width="1" fill="none" stroke-dasharray="3 2"/>
<path d="M259.4 252.4 V254.8 M259.4 275.2 V277.6 M246.8 265 H249.2" stroke="#1c1c1c" stroke-width="1" fill="none"/>
<polygon points="268.8,265 272.8,262.7 272.8,267.3" fill="#1c1c1c" stroke="none" stroke-width="0"/>
<path d="M259.5 277.6 V284.2 M259.5 289.6 V300" stroke="#2a2a2a" stroke-width="1.1" fill="none"/>
<path d="M284.4 239.7 L287.8 239.7 L278.6 251.4 L287.2 248.8 L280.8 261.2 L282.4 262.6 L276.7 265.3 L277.1 258.9 L278.9 260.2 L283.2 251.8 L275.2 253.6 Z" stroke="#1c1c1c" stroke-width="0.4" fill="#1c1c1c" stroke-linejoin="miter"/>
</g>
<g id="right">
<rect x="444.3" y="83.2" width="32.2" height="28.2" stroke="none" stroke-width="0" fill="#fff"/>
<line x1="444.8" y1="87.6" x2="476" y2="87.6" stroke="#262626" stroke-width="1.45"/>
<line x1="444.8" y1="90.02" x2="476" y2="90.02" stroke="#262626" stroke-width="1.45"/>
<line x1="444.8" y1="92.44" x2="476" y2="92.44" stroke="#262626" stroke-width="1.45"/>
<line x1="444.8" y1="94.86" x2="476" y2="94.86" stroke="#262626" stroke-width="1.45"/>
<line x1="444.8" y1="97.28" x2="476" y2="97.28" stroke="#262626" stroke-width="1.45"/>
<line x1="444.8" y1="99.7" x2="476" y2="99.7" stroke="#262626" stroke-width="1.45"/>
<line x1="444.8" y1="102.12" x2="476" y2="102.12" stroke="#262626" stroke-width="1.45"/>
<line x1="444.8" y1="104.54" x2="476" y2="104.54" stroke="#262626" stroke-width="1.45"/>
<line x1="444.8" y1="106.96" x2="476" y2="106.96" stroke="#262626" stroke-width="1.45"/>
<line x1="444.8" y1="109.38" x2="476" y2="109.38" stroke="#262626" stroke-width="1.45"/>
<path d="M444.5 111 V83.4 M476.4 83.4 V111" stroke="#1c1c1c" stroke-width="1.4" fill="none"/>
<path d="M444.5 83.6 H451 M454 83.6 H468 M471 83.6 H476.4" stroke="#1c1c1c" stroke-width="1.4" fill="none"/>
<path d="M447.4 84.4 V86.4 H452.4 V84.4 M467 84.4 V86.4 H472.6 V84.4" stroke="#1c1c1c" stroke-width="0.9" fill="#fff"/>
<line x1="456.5" y1="83" x2="456.5" y2="121" stroke="#fff" stroke-width="2.6"/>
<line x1="456.5" y1="83" x2="456.5" y2="121" stroke="#2a2a2a" stroke-width="1"/>
<line x1="436.6" y1="112" x2="471.6" y2="112" stroke="#1c1c1c" stroke-width="2.6" stroke-linecap="round"/>
<line x1="471.5" y1="109.6" x2="471.5" y2="312" stroke="#1c1c1c" stroke-width="2"/>
<line x1="482.2" y1="109.6" x2="482.2" y2="312" stroke="#1c1c1c" stroke-width="2"/>
<line x1="470.6" y1="109.6" x2="483.2" y2="109.6" stroke="#1c1c1c" stroke-width="1.6"/>
<rect x="474.6" y="110.6" width="5.2" height="7.4" stroke="#1c1c1c" stroke-width="0" fill="#1c1c1c"/>
<circle cx="476.5" cy="123.3" r="1.4" stroke="#1c1c1c" stroke-width="0.9" fill="#fff"/>
<rect x="475.2" y="168.8" width="4.4" height="8.2" stroke="#1c1c1c" stroke-width="1.1" fill="#fff"/>
<circle cx="476.6" cy="204.4" r="1.4" stroke="#1c1c1c" stroke-width="0.9" fill="#fff"/>
<rect x="475.4" y="211.4" width="4.2" height="8.6" stroke="#1c1c1c" stroke-width="1.1" fill="#fff"/>
<rect x="483.2" y="113.2" width="22.2" height="30.6" stroke="none" stroke-width="0" fill="#fff"/>
<line x1="484.2" y1="113.8" x2="484.2" y2="143.4" stroke="#1e1e1e" stroke-width="1"/>
<line x1="485.92" y1="113.8" x2="485.92" y2="143.4" stroke="#1e1e1e" stroke-width="1"/>
<line x1="487.64" y1="113.8" x2="487.64" y2="143.4" stroke="#1e1e1e" stroke-width="1"/>
<line x1="489.36" y1="113.8" x2="489.36" y2="143.4" stroke="#1e1e1e" stroke-width="1"/>
<line x1="491.08" y1="113.8" x2="491.08" y2="143.4" stroke="#1e1e1e" stroke-width="1"/>
<line x1="492.8" y1="113.8" x2="492.8" y2="143.4" stroke="#1e1e1e" stroke-width="1"/>
<line x1="494.52" y1="113.8" x2="494.52" y2="143.4" stroke="#1e1e1e" stroke-width="1"/>
<line x1="496.24" y1="113.8" x2="496.24" y2="143.4" stroke="#1e1e1e" stroke-width="1"/>
<line x1="497.96" y1="113.8" x2="497.96" y2="143.4" stroke="#1e1e1e" stroke-width="1"/>
<line x1="499.68" y1="113.8" x2="499.68" y2="143.4" stroke="#1e1e1e" stroke-width="1"/>
<line x1="501.4" y1="113.8" x2="501.4" y2="143.4" stroke="#1e1e1e" stroke-width="1"/>
<line x1="483.4" y1="115.2" x2="501.6" y2="115.2" stroke="#333" stroke-width="0.8"/>
<line x1="483.4" y1="117.2" x2="501.6" y2="117.2" stroke="#333" stroke-width="0.8"/>
<line x1="483.4" y1="119.2" x2="501.6" y2="119.2" stroke="#333" stroke-width="0.8"/>
<line x1="483.4" y1="121.2" x2="501.6" y2="121.2" stroke="#333" stroke-width="0.8"/>
<line x1="483.4" y1="123.2" x2="501.6" y2="123.2" stroke="#333" stroke-width="0.8"/>
<line x1="483.4" y1="125.2" x2="501.6" y2="125.2" stroke="#333" stroke-width="0.8"/>
<line x1="483.4" y1="127.2" x2="501.6" y2="127.2" stroke="#333" stroke-width="0.8"/>
<line x1="483.4" y1="129.2" x2="501.6" y2="129.2" stroke="#333" stroke-width="0.8"/>
<line x1="483.4" y1="131.2" x2="501.6" y2="131.2" stroke="#333" stroke-width="0.8"/>
<line x1="483.4" y1="133.2" x2="501.6" y2="133.2" stroke="#333" stroke-width="0.8"/>
<line x1="483.4" y1="135.2" x2="501.6" y2="135.2" stroke="#333" stroke-width="0.8"/>
<line x1="483.4" y1="137.2" x2="501.6" y2="137.2" stroke="#333" stroke-width="0.8"/>
<line x1="483.4" y1="139.2" x2="501.6" y2="139.2" stroke="#333" stroke-width="0.8"/>
<line x1="483.4" y1="141.2" x2="501.6" y2="141.2" stroke="#333" stroke-width="0.8"/>
<line x1="483.4" y1="143.2" x2="501.6" y2="143.2" stroke="#333" stroke-width="0.8"/>
<path d="M483.2 113.4 H505 M483.2 143.8 H505" stroke="#1c1c1c" stroke-width="1.2" fill="none"/>
<path d="M505.2 113.4 V118 M505.2 121 V126 M505.2 129 V134 M505.2 137 V143.8" stroke="#1c1c1c" stroke-width="1.1" fill="none"/>
<path d="M503.4 116 V120 M503.4 124 V131 M503.4 135 V140" stroke="#1c1c1c" stroke-width="1.2" fill="none"/>
<path d="M503.6 113 L505.6 114.8 M503.6 144.2 L505.6 142.6" stroke="#1c1c1c" stroke-width="1" fill="none"/>
<line x1="445.2" y1="113" x2="445.2" y2="153.6" stroke="#1c1c1c" stroke-width="1.8"/>
<path d="M445.2 117.4 H471 M448 119.6 H463.4 V132.2 H448 Z M463.4 125.4 H471 M455 113 V119.6 M463.4 113 V119.6" stroke="#1c1c1c" stroke-width="0.9" fill="none"/>
<path d="M445.2 132.2 H471 M452 132.2 V137 M463.4 132.2 V137" stroke="#1c1c1c" stroke-width="0.8" fill="none"/>
<circle cx="456.4" cy="125.2" r="4" stroke="#1c1c1c" stroke-width="1.3" fill="#fff"/>
<path d="M451.4 125.2 H461.8 M456.4 120.2 V130.4" stroke="#1c1c1c" stroke-width="0.9" fill="none"/>
<path d="M444.2 121.5 V128.5" stroke="#1c1c1c" stroke-width="2.2" fill="none"/>
<line x1="445.2" y1="137.6" x2="471" y2="137.6" stroke="#1c1c1c" stroke-width="2"/>
<path d="M457.6 136.4 H468.6 Q470.8 138.4 468.6 140.4 H457.6" stroke="#1c1c1c" stroke-width="1.1" fill="none"/>
<rect x="446.6" y="139.6" width="23.8" height="12" stroke="#1c1c1c" stroke-width="1" fill="none"/>
<rect x="448.2" y="143.2" width="6.8" height="4.1" stroke="#1c1c1c" stroke-width="0" fill="#1c1c1c"/>
<line x1="449.4" y1="145.2" x2="454" y2="145.2" stroke="#ddd" stroke-width="0.7"/>
<line x1="460.2" y1="139.6" x2="460.2" y2="151.6" stroke="#1c1c1c" stroke-width="0.9"/>
<path d="M457.6 150.6 H468.6 Q470.8 152.6 468.6 154.4 H457.6" stroke="#1c1c1c" stroke-width="1.1" fill="none"/>
<line x1="444.3" y1="153.4" x2="471" y2="153.4" stroke="#1c1c1c" stroke-width="2"/>
<line x1="444.4" y1="153" x2="444.4" y2="216" stroke="#1c1c1c" stroke-width="2"/>
<line x1="460.2" y1="154" x2="460.2" y2="215" stroke="#1c1c1c" stroke-width="0.9"/>
<line x1="443.6" y1="215.3" x2="471.4" y2="215.3" stroke="#1c1c1c" stroke-width="2"/>
<path d="M444.6 215.3 V218.8 H447.6" stroke="#1c1c1c" stroke-width="1.2" fill="none"/>
<path d="M448.0 216 V224.8 Q449.5 242 468.8 247.8 L471 241 Q459.5 236 458.4 224.8 V216 Z" stroke="#1c1c1c" stroke-width="1.3" fill="#3c3c3c" stroke-linejoin="round"/>
<path d="M448.8 226.4 H458.2 M449.6 229.6 H459 M450.8 232.8 L460 231.6 M452.8 236 L461.6 233.6 M455.6 239.2 L463.6 235.6 M459.2 242.2 L466 237.6 M463.4 244.8 L468.6 239.6" stroke="#d8d8d8" stroke-width="0.8" fill="none"/>
<path d="M448.0 216 H471 V225.6 Q462 224.6 458.4 221 V224.8 H448 Z" stroke="#1c1c1c" stroke-width="0.8" fill="#1c1c1c"/>
<path d="M450.8 217.4 H455.8 L455 223.2 H450.8 Z" stroke="#fff" stroke-width="0.5" fill="#fff"/>
<path d="M459.6 218.6 H469.6 V221.8 H461.8 Z" stroke="#fff" stroke-width="0.5" fill="#fff"/>
<path d="M461 226.6 Q465 229.4 471 230.2" stroke="#1c1c1c" stroke-width="1" fill="none"/>
<path d="M462.8 238.2 L468.6 243.4" stroke="#1c1c1c" stroke-width="1.3" fill="none"/>
<path d="M468.6 246 L471.2 243.2 L475.4 246.6 L477.8 242.8 L481.6 245.6" stroke="#1c1c1c" stroke-width="1" fill="none"/>
<path d="M470 248.6 L472.6 251.6 H477 L479 248.4" stroke="#1c1c1c" stroke-width="1" fill="none" stroke-dasharray="2 1.2"/>
<path d="M485.9 221.8 H590.2 Q593.8 222.0 593.8 225.6 V233.0 Q593.8 235.2 592.2 237.0 L545.6 289.8 Q541.0 295.4 533.6 297.8 L486.4 306.6" stroke="#1c1c1c" stroke-width="1.25" fill="none" stroke-dasharray="3.2 1.9"/>
<line x1="485.9" y1="221.8" x2="485.9" y2="306.6" stroke="#1c1c1c" stroke-width="1.25" stroke-dasharray="3.2 1.9"/>
<path d="M485.9 240.1 L499.4 237.9 L509.4 236.8 L585.0 234.2" stroke="#1c1c1c" stroke-width="1.25" fill="none" stroke-dasharray="3.2 1.9"/>
<line x1="499.5" y1="238.4" x2="499.5" y2="302.6" stroke="#1c1c1c" stroke-width="1.25" stroke-dasharray="3.2 1.9"/>
<path d="M509.3 237.0 V250.6 Q510.2 261.4 519.4 267.4 Q533 275.8 554 278.6" stroke="#1c1c1c" stroke-width="1.25" fill="none" stroke-dasharray="3.2 1.9"/>
<line x1="482.8" y1="245" x2="509.8" y2="245" stroke="#5a5a5a" stroke-width="3.2"/>
<line x1="482.8" y1="245" x2="509.8" y2="245" stroke="#fff" stroke-width="3.2" stroke-dasharray="0.7 0.9"/>
<line x1="482.8" y1="243.5" x2="509.8" y2="243.5" stroke="#1c1c1c" stroke-width="0.6"/>
<line x1="482.8" y1="246.5" x2="509.8" y2="246.5" stroke="#1c1c1c" stroke-width="0.6"/>
<path d="M442.4 333 V277.4 Q442.8 260.2 459.8 260.0 H468" stroke="#1c1c1c" stroke-width="1.9" fill="none"/>
<path d="M466.3 333 V284 L463.6 280.8" stroke="#1c1c1c" stroke-width="1.9" fill="none"/>
<line x1="442.4" y1="280.8" x2="463.8" y2="280.8" stroke="#777" stroke-width="1"/>
<line x1="463.2" y1="260.6" x2="463.2" y2="280.8" stroke="#555" stroke-width="0.9"/>
<path d="M454.4 364 V288 Q454.6 272.8 468 272.4" stroke="#2a2a2a" stroke-width="1" fill="none" stroke-dasharray="9 2.5 2 2.5"/>
<line x1="441.6" y1="333" x2="467.2" y2="333" stroke="#1c1c1c" stroke-width="1.6"/>
<path d="M469.8 256.4 V289.4" stroke="#1c1c1c" stroke-width="3.6" fill="none"/>
<path d="M483.0 256.4 V289.4" stroke="#1c1c1c" stroke-width="3.4" fill="none"/>
<path d="M473.4 259 V288" stroke="#1c1c1c" stroke-width="1.6" fill="none" stroke-dasharray="2.6 2.2"/>
<path d="M476.8 259 V288" stroke="#1c1c1c" stroke-width="1.6" fill="none" stroke-dasharray="2.6 2.2"/>
<path d="M479.6 260 V288" stroke="#1c1c1c" stroke-width="1.2" fill="none" stroke-dasharray="2.2 2.6"/>
<path d="M468.6 272.6 H487" stroke="#1c1c1c" stroke-width="0.9" fill="none"/>
<path d="M468.4 256.2 Q476 253.6 483.8 256.2 M468.4 289.6 Q476 292.2 483.8 289.6" stroke="#1c1c1c" stroke-width="1" fill="none"/>
<path d="M472.0 312.4 Q476.5 310.6 481.8 312.4" stroke="#1c1c1c" stroke-width="1.1" fill="none"/>
<line x1="473" y1="312" x2="473" y2="360.4" stroke="#1c1c1c" stroke-width="1.5"/>
<line x1="481.3" y1="312" x2="481.3" y2="360.4" stroke="#1c1c1c" stroke-width="1.5"/>
<rect x="469.4" y="360" width="13.3" height="4.4" stroke="#1c1c1c" stroke-width="0" fill="#1c1c1c"/>
<rect x="475.4" y="357.2" width="2.2" height="3" stroke="#1c1c1c" stroke-width="0" fill="#1c1c1c"/>
<rect x="438.4" y="337.6" width="31.6" height="20" stroke="#1c1c1c" stroke-width="1.5" fill="#fff" rx="2.2"/>
<line x1="439.2" y1="340.6" x2="469.2" y2="340.6" stroke="#9a9a9a" stroke-width="2.6"/>
<line x1="438.8" y1="338.2" x2="469.8" y2="338.2" stroke="#1c1c1c" stroke-width="1.6"/>
<path d="M438.4 342.5 Q437 340 438.8 338.5" stroke="#1c1c1c" stroke-width="1.6" fill="none"/>
<line x1="454.4" y1="334" x2="454.4" y2="364" stroke="#2a2a2a" stroke-width="1" stroke-dasharray="9 2.5 2 2.5"/>
</g>
</svg>
</body></html>
